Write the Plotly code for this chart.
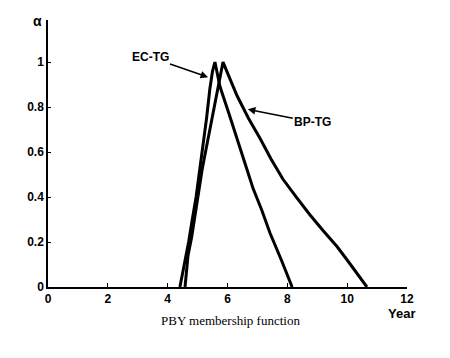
import plotly.graph_objects as go

# EC-TG membership function (years, alpha)
ec_x = [4.41, 4.52, 4.62, 4.70, 4.81, 4.95, 5.05, 5.18, 5.30, 5.41, 5.50, 5.58, 5.75, 6.05, 6.32, 6.60, 6.85, 7.15, 7.42, 7.80, 8.16]
ec_y = [0.0, 0.07, 0.14, 0.20, 0.29, 0.40, 0.50, 0.62, 0.75, 0.88, 0.96, 1.0, 0.89, 0.77, 0.66, 0.55, 0.44, 0.34, 0.24, 0.12, 0.0]

# BP-TG membership function
bp_x = [4.58, 4.63, 4.68, 4.80, 4.91, 5.05, 5.15, 5.25, 5.38, 5.48, 5.60, 5.68, 5.85,
        6.10, 6.32, 6.70, 7.09, 7.45, 7.85, 8.30, 8.76, 9.20, 9.66, 10.00, 10.33, 10.50, 10.66]
bp_y = [0.0, 0.07, 0.14, 0.22, 0.32, 0.44, 0.52, 0.59, 0.68, 0.76, 0.84, 0.90, 1.0,
        0.92, 0.85, 0.75, 0.66, 0.57, 0.48, 0.40, 0.32, 0.25, 0.18, 0.12, 0.06, 0.025, 0.0]

x_ticks = [0, 2, 4, 6, 8, 10, 12]
y_ticks = [0, 0.2, 0.4, 0.6, 0.8, 1.0]
y_tick_text = ["0", "0.2", "0.4", "0.6", "0.8", "1"]

fig = go.Figure()
fig.add_trace(go.Scatter(x=ec_x, y=ec_y, mode="lines", name="EC-TG",
                         line=dict(color="black", width=3)))
fig.add_trace(go.Scatter(x=bp_x, y=bp_y, mode="lines", name="BP-TG",
                         line=dict(color="black", width=3)))

tick_font = dict(family="Liberation Sans, Arial, sans-serif", size=12, color="black", weight="bold")

fig.update_layout(
    width=450, height=358,
    margin=dict(l=40, r=51, t=12, b=79, autoexpand=False),
    paper_bgcolor="white", plot_bgcolor="white",
    showlegend=False,
    xaxis=dict(range=[0, 12], tickvals=x_ticks, ticks="inside", ticklen=4,
               tickcolor="black", showline=True, linecolor="black", linewidth=1.5,
               showgrid=False, zeroline=False, tickfont=tick_font, automargin=False),
    yaxis=dict(range=[0, 1.187], tickvals=y_ticks, ticktext=y_tick_text,
               ticks="inside", ticklen=3, tickcolor="black", showline=True,
               linecolor="black", linewidth=1.5, showgrid=False, zeroline=False,
               tickfont=tick_font, automargin=False),
)

fig.add_annotation(x=5.35, y=0.933, xref="x", yref="y", ax=-58, ay=-20,
                   text="EC-TG", showarrow=True, arrowhead=2, arrowsize=1,
                   arrowwidth=1.5, arrowcolor="black", font=tick_font)
fig.add_annotation(x=6.68, y=0.79, xref="x", yref="y", ax=65, ay=13,
                   text="BP-TG", showarrow=True, arrowhead=2, arrowsize=1,
                   arrowwidth=1.5, arrowcolor="black", font=tick_font)
fig.add_annotation(x=-0.028, y=0.996, xref="paper", yref="paper",
                   text="α", showarrow=False, xanchor="center", yanchor="middle",
                   font=dict(family="Liberation Sans, Arial, sans-serif", size=14, color="black", weight="bold"))
fig.add_annotation(x=0.986, y=-0.1, xref="paper", yref="paper",
                   text="Year", showarrow=False, xanchor="center", yanchor="middle",
                   font=dict(family="Liberation Sans, Arial, sans-serif", size=13, color="black", weight="bold"))
fig.add_annotation(x=0.507, y=-0.124, xref="paper", yref="paper",
                   text="PBY membership function", showarrow=False,
                   xanchor="center", yanchor="middle",
                   font=dict(family="Liberation Serif, DejaVu Serif, serif", size=13, color="black"))

fig.write_html("out.html")
